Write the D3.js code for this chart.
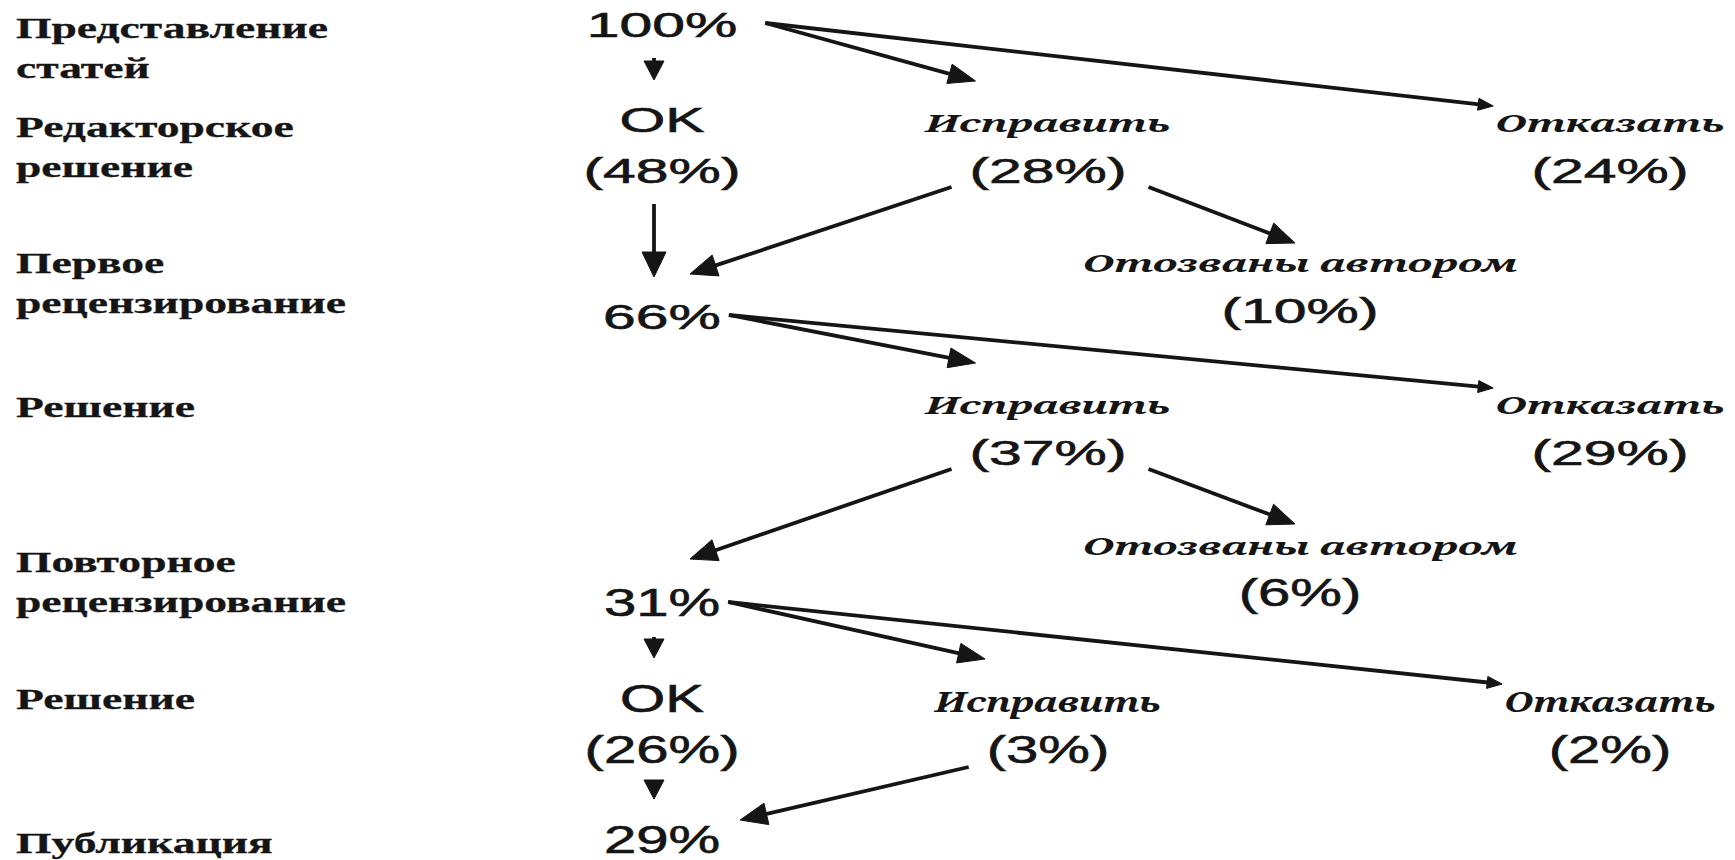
<!DOCTYPE html>
<html><head><meta charset="utf-8">
<script src="https://cdn.jsdelivr.net/npm/d3@7"></script>
<style>html,body{margin:0;padding:0;background:#fff;overflow:hidden}</style>
</head><body>
<svg id="chart" width="1735" height="860"></svg>
<script>
// ================= DATA =================
const stageLabels = [
  ["Представление", "статей"],
  ["Редакторское", "решение"],
  ["Первое", "рецензирование"],
  ["Решение"],
  ["Повторное", "рецензирование"],
  ["Решение"],
  ["Публикация"]
];
const nodeIds    = ["submit","ok1","rev1","rej1","wd1","review1","rev2","rej2","wd2","review2","ok3","rev3","rej3","pub"];
const nodeLabels = [null,"OK","Исправить","Отказать","Отозваны автором",null,"Исправить","Отказать","Отозваны автором",null,"OK","Исправить","Отказать",null];
const nodeValues = [100,48,28,24,10,66,37,29,6,31,26,3,2,29];
const nodeColumn = ["main","main","revise","reject","withdrawn","main","revise","reject","withdrawn","main","main","revise","reject","main"];
const nodeRow    = [0,1,1,1,2,3,4,4,5,6,7,7,7,8];
const linkSource = ["submit","submit","submit","ok1","rev1","rev1","review1","review1","rev2","rev2","review2","review2","review2","ok3","rev3"];
const linkTarget = ["ok1","rev1","rej1","review1","review1","wd1","rev2","rej2","review2","wd2","ok3","rev3","rej3","pub","pub"];

// ================= LAYOUT =================
const W = 1735, H = 860;
const INK = "#151515";
const colX = d3.scaleOrdinal().domain(["main","revise","withdrawn","reject"]).range([662,1048,1300,1610]);
const rowY = d3.scaleLinear().domain(d3.range(9)).range([37,183,323,329,465,606,616,763,853]);
const stageY = d3.scaleLinear().domain(d3.range(7)).range([38,137,273,417,572,709,853]);
const STAGE_X = 16, STAGE_LINE = 40, LABEL_OFFSET = 51;

const styles = {
  stage:   {family:"'Liberation Serif','Times New Roman',serif", size:30, weight:"bold", style:"normal", ref:"Представление", target:312, stroke:0.3},
  labelHi: {family:"'Noto Serif'", size:24, weight:"bold", style:"italic", ref:"Исправить", target:245, stroke:0},
  labelLo: {family:"'Noto Serif'", size:27, weight:"bold", style:"italic", ref:"Исправить", target:226, stroke:0},
  numHi:   {family:"'Liberation Sans',Arial,sans-serif", size:35, weight:"normal", style:"normal", ref:"(48%)", target:157, cap:25, stroke:0.6},
  numLo:   {family:"'Liberation Sans',Arial,sans-serif", size:38, weight:"normal", style:"normal", ref:"(26%)", target:155, cap:27, stroke:0.6}
};

const svg = d3.select("#chart");
svg.append("rect").attr("width", W).attr("height", H).attr("fill", "#fff");

function applyFont(sel, s) {
  return sel.attr("font-family", s.family).attr("font-size", s.size)
    .attr("font-weight", s.weight).attr("font-style", s.style).attr("fill", INK)
    .attr("stroke", s.stroke ? INK : null).attr("stroke-width", s.stroke || null);
}
// horizontal stretch factor so that the reference string reaches its target width
Object.values(styles).forEach(s => {
  const t = applyFont(svg.append("text"), s).text(s.ref);
  s.sx = s.target / t.node().getComputedTextLength();
  t.remove();
});

// ---------- stage labels ----------
const gStage = svg.append("g");
stageLabels.forEach((lines, i) => {
  lines.forEach((ln, j) => {
    applyFont(gStage.append("text"), styles.stage)
      .attr("transform", `translate(${STAGE_X},${stageY(i) + j * STAGE_LINE}) scale(${styles.stage.sx},1)`)
      .text(ln);
  });
});

// ---------- nodes ----------
const nodes = nodeIds.map((id, i) => ({
  id, label: nodeLabels[i], value: nodeValues[i], col: nodeColumn[i], row: nodeRow[i]
}));
const byId = new Map(nodes.map(d => [d.id, d]));
const gNodes = svg.append("g");
nodes.forEach(d => {
  d.cx = colX(d.col);
  d.vy = rowY(d.row);
  const ns = d.row >= 5 ? styles.numLo : styles.numHi;
  const ls = d.label === "OK" ? ns : (d.row >= 7 ? styles.labelLo : styles.labelHi);
  d.cap = ns.cap;
  const vt = applyFont(gNodes.append("text"), ns)
    .attr("text-anchor", "middle")
    .attr("transform", `translate(${d.cx},${d.vy}) scale(${ns.sx},1)`)
    .text(d.label ? `(${d.value}%)` : `${d.value}%`);
  d.wV = vt.node().getComputedTextLength() * ns.sx;
  if (d.label) {
    d.ly = d.vy - LABEL_OFFSET;
    const lt = applyFont(gNodes.append("text"), ls)
      .attr("text-anchor", "middle")
      .attr("transform", `translate(${d.cx},${d.ly}) scale(${ls.sx},1)`)
      .text(d.label);
    d.wL = lt.node().getComputedTextLength() * ls.sx;
  }
  d.top = (d.label ? d.ly : d.vy) - d.cap;
});

// ---------- anchors ----------
const anchor = {
  right:       d => [d.cx + d.wV / 2 + 8 + (d.row === 0 ? 20 : 0), d.vy - 14],
  bottom:      d => [d.cx - 8, d.vy + 21],
  top:         d => [d.cx - 8, d.top - 27],
  bottomLeft:  d => [d.cx - d.wV / 2 - 18, d.vy + 4],
  bottomRight: d => [d.cx + d.wV / 2 + 22, d.vy + 4],
  topLabel:    d => [d.cx - d.wL / 2 + 50, d.top - 26],
  leftLabel:   d => [d.cx - d.wL / 2 - 2, d.top - 1],
  topRightVal: d => [d.cx + 28, d.top - 30],
  rightVal:    d => [d.cx + d.wV / 2 + 20, d.top - 6],
  topWd:       d => [d.cx - 5, d.top - 4]
};

const links = linkSource.map((s, i) => ({ s: byId.get(s), t: byId.get(linkTarget[i]) }));
links.forEach(l => {
  const a = l.s.col, b = l.t.col;
  if (a === "main" && b === "main") { l.p1 = anchor.bottom(l.s); l.p2 = anchor.top(l.t); }
  else if (a === "main" && b === "revise") { l.p1 = anchor.right(l.s); l.p2 = anchor.topLabel(l.t); l.head = [27, 10]; }
  else if (a === "main" && b === "reject") { l.p1 = anchor.right(l.s); l.p2 = anchor.leftLabel(l.t); l.head = [15, 6]; }
  else if (a === "revise" && b === "main") {
    l.p1 = anchor.bottomLeft(l.s);
    l.p2 = (l.t.top - l.s.vy) < 80 ? anchor.rightVal(l.t) : anchor.topRightVal(l.t);
    l.head = [27, 11];
  }
  else if (a === "revise" && b === "withdrawn") { l.p1 = anchor.bottomRight(l.s); l.p2 = anchor.topWd(l.t); l.head = [27, 11]; }
  if (!l.head) {
    const len = Math.hypot(l.p2[0] - l.p1[0], l.p2[1] - l.p1[1]);
    l.head = len > 45 ? [25, 12] : [19, 10];
  }
});

// ---------- arrows ----------
const gLinks = svg.append("g");
const lineGen = d3.line();
links.forEach(l => {
  const [x1, y1] = l.p1, [x2, y2] = l.p2;
  const L = Math.hypot(x2 - x1, y2 - y1), ux = (x2 - x1) / L, uy = (y2 - y1) / L;
  const [hl, hw] = l.head;
  const bx = x2 - ux * hl, by = y2 - uy * hl;
  gLinks.append("path")
    .attr("d", lineGen([[x1, y1], [bx + ux * 3, by + uy * 3]]))
    .attr("stroke", INK).attr("stroke-width", 3.8).attr("fill", "none");
  gLinks.append("path")
    .attr("d", lineGen([[x2, y2], [bx - uy * hw, by + ux * hw], [bx + uy * hw, by - ux * hw]]) + "Z")
    .attr("fill", INK).attr("stroke", INK).attr("stroke-width", 1).attr("stroke-linejoin", "miter");
});
</script>
</body></html>
